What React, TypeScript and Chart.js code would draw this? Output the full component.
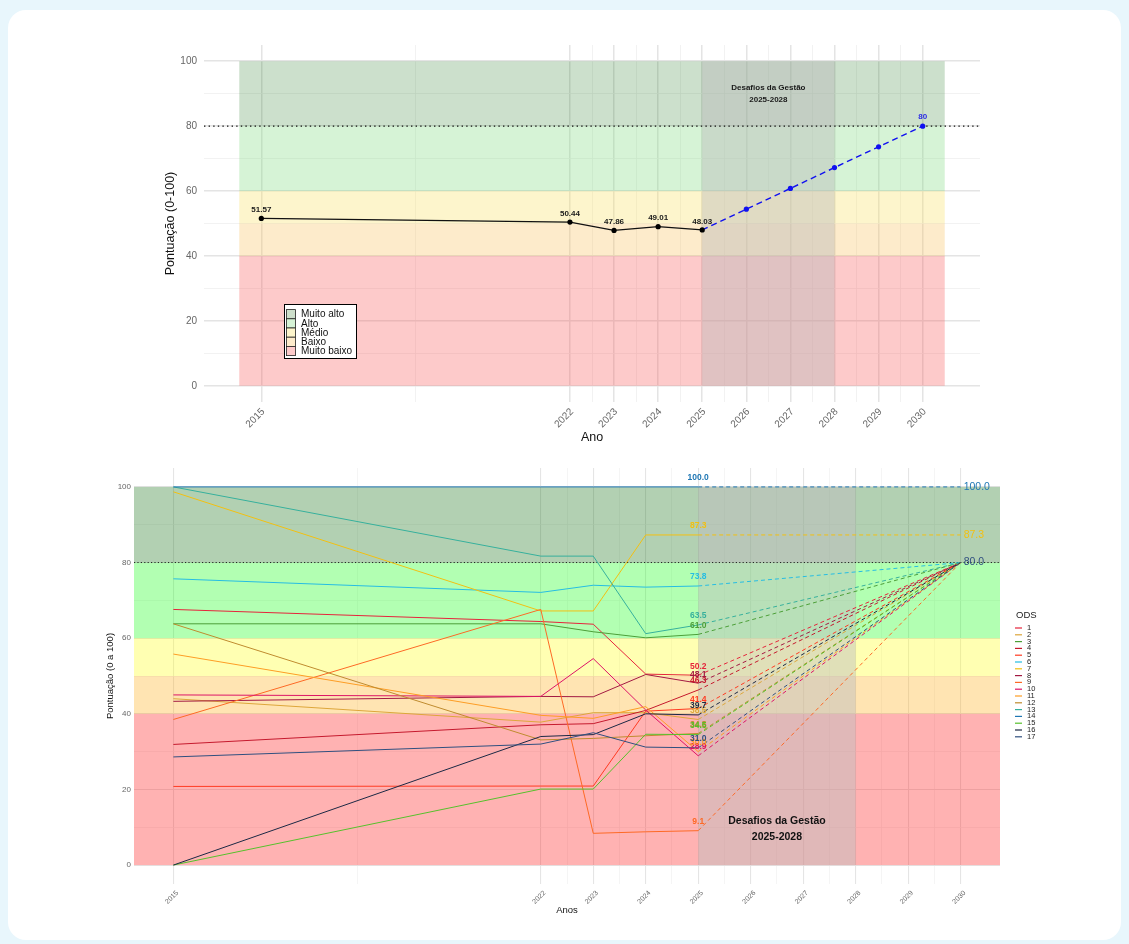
import React, { useEffect, useRef } from 'react';
import { Chart, registerables } from 'chart.js';

Chart.register(...registerables);

const FONT = '"Liberation Sans", Arial, Helvetica, sans-serif';

// ---------- shared axes ----------
const YEAR_TICKS = [2015, 2022, 2023, 2024, 2025, 2026, 2027, 2028, 2029, 2030];
const YEAR_MINOR = [2018.5, 2022.5, 2023.5, 2024.5, 2025.5, 2026.5, 2027.5, 2028.5, 2029.5];
const SCORE_TICKS = [0, 20, 40, 60, 80, 100];
const SCORE_MINOR = [10, 30, 50, 70, 90];
const META = 80;

// ---------- bands ----------
const BAND_NAMES = ['Muito alto', 'Alto', 'Médio', 'Baixo', 'Muito baixo'];
const BAND_FROM = [80, 60, 50, 40, 0];
const BAND_TO = [100, 80, 60, 50, 40];
const TOP_BAND_SPAN = [2014.5, 2030.5];
const TOP_BAND_FILLS = ['rgba(0,100,0,0.2)', 'rgba(118,215,118,0.3)', 'rgba(248,222,85,0.3)', 'rgba(248,188,82,0.3)', 'rgba(248,78,78,0.3)'];
const TOP_LEGEND_KEYS = ['#cddfcb', '#d6f3d6', '#fdf5cc', '#fdebcb', '#fdcaca'];
const BOTTOM_BAND_FILLS = ['rgba(0,100,0,0.3)', 'rgba(0,255,0,0.3)', 'rgba(255,255,0,0.3)', 'rgba(255,165,0,0.3)', 'rgba(255,0,0,0.3)'];
const GESTAO = [2025, 2028];
const GESTAO_TEXT = ['Desafios da Gestão', '2025-2028'];

// ---------- top chart ----------
const HIST_YEARS = [2015, 2022, 2023, 2024, 2025];
const HIST_SCORES = [51.57, 50.44, 47.86, 49.01, 48.03];
const PROJ_YEARS = [2025, 2026, 2027, 2028, 2029, 2030];
const PROJ_SCORES = [48.03, 54.42, 60.82, 67.22, 73.61, 80];

// ---------- bottom chart (ODS) ----------
const ODS_YEARS = [2015, 2022, 2023, 2024, 2025];
const ODS_END_YEAR = 2030;
const ODS_NAMES = ['1', '2', '3', '4', '5', '6', '7', '8', '9', '10', '11', '12', '13', '14', '15', '16', '17'];
const ODS_COLORS = ['#E5243B', '#DDA63A', '#4C9F38', '#C5192D', '#FF3A21', '#26BDE2', '#F2C011', '#A21942', '#FD6925', '#DD1367', '#FD9D24', '#BF8B2E', '#36B09C', '#1F77B4', '#56C02B', '#1B2844', '#2F4F7F'];
const ODS_1 = [67.6, 64.4, 63.7, 50.5, 50.2];
const ODS_2 = [44.0, 37.8, 40.3, 40.3, 38.5];
const ODS_3 = [63.8, 63.8, 61.7, 60.1, 61.0];
const ODS_4 = [31.9, 37.1, 37.4, 40.9, 46.3];
const ODS_5 = [20.8, 20.9, 20.9, 40.7, 41.4];
const ODS_6 = [75.7, 72.1, 74.0, 73.5, 73.8];
const ODS_7 = [98.7, 67.2, 67.2, 87.3, 87.3];
const ODS_8 = [43.3, 44.6, 44.5, 50.4, 48.1];
const ODS_9 = [38.5, 67.6, 8.4, 8.8, 9.1];
const ODS_10 = [45.0, 44.6, 54.6, 41.0, 28.9];
const ODS_11 = [55.8, 39.6, 38.8, 41.9, 30.0];
const ODS_12 = [63.8, 33.1, 33.5, 34.2, 34.8];
const ODS_13 = [100, 81.7, 81.7, 61.2, 63.5];
const ODS_14 = [100, 100, 100, 100, 100];
const ODS_15 = [0, 20.1, 20.1, 34.6, 34.5];
const ODS_16 = [0, 34.0, 34.5, 40.0, 39.7];
const ODS_17 = [28.6, 32.0, 35.0, 31.2, 31.0];
const ODS_SERIES = [ODS_1, ODS_2, ODS_3, ODS_4, ODS_5, ODS_6, ODS_7, ODS_8, ODS_9, ODS_10, ODS_11, ODS_12, ODS_13, ODS_14, ODS_15, ODS_16, ODS_17];

function text(ctx: any, t: string, x: number, y: number, font: string, color: string, align = 'center') {
  ctx.font = font;
  ctx.fillStyle = color;
  ctx.textAlign = align;
  ctx.textBaseline = 'middle';
  ctx.fillText(t, x, y);
}

function gridOpts(majors: number[], majorColor: string, minorColor: string, mw: number, nw: number) {
  return {
    drawTicks: false,
    color: (c: any) => (c.tick && majors.includes(c.tick.value) ? majorColor : minorColor),
    lineWidth: (c: any) => (c.tick && majors.includes(c.tick.value) ? mw : nw),
  };
}

function drawBands(chart: any, fills: string[], span: number[] | null, gray: string) {
  const { ctx, chartArea: a, scales } = chart;
  const x = scales.x, y = scales.y;
  const bx0 = span ? x.getPixelForValue(span[0]) : a.left;
  const bx1 = span ? x.getPixelForValue(span[1]) : a.right;
  for (let i = 0; i < BAND_NAMES.length; i++) {
    const y0 = y.getPixelForValue(BAND_TO[i]);
    const y1 = y.getPixelForValue(BAND_FROM[i]);
    ctx.fillStyle = fills[i];
    ctx.fillRect(bx0, y0, bx1 - bx0, y1 - y0);
  }
  const gx0 = x.getPixelForValue(GESTAO[0]);
  const gx1 = x.getPixelForValue(GESTAO[1]);
  const gy0 = y.getPixelForValue(100);
  const gy1 = y.getPixelForValue(0);
  ctx.fillStyle = gray;
  ctx.fillRect(gx0, gy0, gx1 - gx0, gy1 - gy0);
}

const topDecor = {
  id: 'topDecor',
  beforeDatasetsDraw(chart: any) {
    const { ctx, chartArea: a, scales } = chart;
    ctx.save();
    drawBands(chart, TOP_BAND_FILLS, TOP_BAND_SPAN, 'rgba(183,183,183,0.41)');
    const my = scales.y.getPixelForValue(META);
    ctx.strokeStyle = '#111';
    ctx.lineWidth = 1.4;
    ctx.setLineDash([1.4, 3.2]);
    ctx.beginPath();
    ctx.moveTo(a.left, my);
    ctx.lineTo(a.right, my);
    ctx.stroke();
    ctx.restore();
  },
  afterDatasetsDraw(chart: any) {
    const { ctx, scales } = chart;
    const x = scales.x, y = scales.y;
    ctx.save();
    HIST_YEARS.forEach((yr, i) => {
      text(ctx, HIST_SCORES[i].toFixed(2), x.getPixelForValue(yr), y.getPixelForValue(HIST_SCORES[i]) - 8.5, `bold 8px ${FONT}`, '#1a1a1a');
    });
    const last = PROJ_SCORES.length - 1;
    text(ctx, String(PROJ_SCORES[last]), x.getPixelForValue(PROJ_YEARS[last]), y.getPixelForValue(PROJ_SCORES[last]) - 9, `bold 8px ${FONT}`, '#2a2ae6');
    const cx = x.getPixelForValue((GESTAO[0] + GESTAO[1]) / 2);
    const cy = y.getPixelForValue(90);
    text(ctx, GESTAO_TEXT[0], cx, cy - 6, `bold 8px ${FONT}`, '#1a1a1a');
    text(ctx, GESTAO_TEXT[1], cx, cy + 6, `bold 8px ${FONT}`, '#1a1a1a');
    // legend box
    ctx.fillStyle = '#ffffff';
    ctx.fillRect(284.5, 304.5, 72, 54);
    ctx.strokeStyle = '#000';
    ctx.lineWidth = 1;
    ctx.setLineDash([]);
    ctx.strokeRect(284.5, 304.5, 72, 54);
    BAND_NAMES.forEach((name, i) => {
      const ky = 309.6 + i * 9.2;
      ctx.fillStyle = TOP_LEGEND_KEYS[i];
      ctx.fillRect(286.5, ky, 9, 9.2);
      ctx.strokeStyle = '#222';
      ctx.lineWidth = 0.8;
      ctx.strokeRect(286.5, ky, 9, 9.2);
      text(ctx, name, 301, ky + 5, `10px ${FONT}`, '#111', 'left');
    });
    ctx.restore();
  },
};

const bottomDecor = {
  id: 'bottomDecor',
  beforeDatasetsDraw(chart: any) {
    const { ctx, chartArea: a, scales } = chart;
    ctx.save();
    drawBands(chart, BOTTOM_BAND_FILLS, null, 'rgba(190,190,190,0.48)');
    const my = scales.y.getPixelForValue(META);
    ctx.strokeStyle = '#222';
    ctx.lineWidth = 1;
    ctx.setLineDash([1.2, 2.2]);
    ctx.beginPath();
    ctx.moveTo(a.left, my);
    ctx.lineTo(a.right, my);
    ctx.stroke();
    ctx.restore();
  },
  afterDatasetsDraw(chart: any) {
    const { ctx, scales } = chart;
    const x = scales.x, y = scales.y;
    ctx.save();
    const lastIdx = ODS_YEARS.length - 1;
    const xl = x.getPixelForValue(ODS_YEARS[lastIdx]);
    ODS_SERIES.forEach((s, i) => {
      text(ctx, s[lastIdx].toFixed(1), xl, y.getPixelForValue(s[lastIdx]) - 9, `bold 8.5px ${FONT}`, ODS_COLORS[i]);
    });
    // end labels at 2030
    const ends: { [k: string]: string } = {};
    ODS_SERIES.forEach((s, i) => {
      const v = Math.max(s[lastIdx], META);
      ends[v.toFixed(1)] = ODS_COLORS[i];
    });
    const xe = x.getPixelForValue(ODS_END_YEAR) + 3;
    Object.keys(ends).forEach((k) => {
      text(ctx, k, xe, y.getPixelForValue(parseFloat(k)), `10.5px ${FONT}`, ends[k], 'left');
    });
    const cx = x.getPixelForValue((GESTAO[0] + GESTAO[1]) / 2);
    const cy = y.getPixelForValue(10);
    text(ctx, GESTAO_TEXT[0], cx, cy - 6.5, `bold 10.5px ${FONT}`, '#111');
    text(ctx, GESTAO_TEXT[1], cx, cy + 9.5, `bold 10.5px ${FONT}`, '#111');
    // ODS legend
    const top = 615.5 - 460;
    text(ctx, 'ODS', 1016, top, `9.5px ${FONT}`, '#222', 'left');
    ODS_NAMES.forEach((n, i) => {
      const ly = top + 12.5 + i * 6.8;
      ctx.strokeStyle = ODS_COLORS[i];
      ctx.lineWidth = 1.2;
      ctx.setLineDash([]);
      ctx.beginPath();
      ctx.moveTo(1015, ly);
      ctx.lineTo(1022, ly);
      ctx.stroke();
      text(ctx, n, 1027, ly, `7.5px ${FONT}`, '#222', 'left');
    });
    ctx.restore();
  },
};

function yearTicks(scale: any) {
  scale.ticks = [...YEAR_TICKS, ...YEAR_MINOR].sort((a, b) => a - b).map((v) => ({ value: v }));
}
function scoreTicks(scale: any) {
  scale.ticks = [...SCORE_TICKS, ...SCORE_MINOR].sort((a, b) => a - b).map((v) => ({ value: v }));
}

export default function App() {
  const topRef = useRef<HTMLCanvasElement | null>(null);
  const botRef = useRef<HTMLCanvasElement | null>(null);

  useEffect(() => {
    const top = new Chart(topRef.current as HTMLCanvasElement, {
      type: 'line',
      data: {
        datasets: [
          {
            data: HIST_YEARS.map((yr, i) => ({ x: yr, y: HIST_SCORES[i] })),
            borderColor: '#111',
            borderWidth: 1.3,
            pointRadius: 2.6,
            pointBackgroundColor: '#000',
            pointBorderWidth: 0,
            tension: 0,
          },
          {
            data: PROJ_YEARS.map((yr, i) => ({ x: yr, y: PROJ_SCORES[i] })),
            borderColor: '#1010f0',
            borderWidth: 1.4,
            borderDash: [6, 4],
            pointRadius: (c: any) => (c.dataIndex === 0 ? 0 : 2.6),
            pointBackgroundColor: '#1010f0',
            pointBorderWidth: 0,
            tension: 0,
          },
        ],
      },
      options: {
        responsive: false,
        animation: false,
        layout: { padding: { left: 144, right: 149, top: 45, bottom: 0 } },
        plugins: { legend: { display: false }, tooltip: { enabled: false } },
        scales: {
          x: {
            type: 'linear',
            min: 2013.7,
            max: 2031.3,
            afterBuildTicks: yearTicks,
            afterFit: (s: any) => { s.height = 58; },
            border: { display: false },
            grid: gridOpts(YEAR_TICKS, '#e4e4e4', '#efefef', 1.5, 0.8),
            ticks: {
              autoSkip: false,
              minRotation: 45,
              maxRotation: 45,
              padding: 4,
              labelOffset: 2,
              color: '#666',
              font: { family: FONT, size: 10 },
              callback: (v: any) => (YEAR_TICKS.includes(v) ? String(v) : ''),
            },
            title: { display: true, text: 'Ano', color: '#111', font: { family: FONT, size: 12.5 }, padding: { top: 0, bottom: 14.5 } },
          },
          y: {
            type: 'linear',
            min: -5,
            max: 105,
            afterBuildTicks: scoreTicks,
            afterFit: (s: any) => { s.width = 60; },
            border: { display: false },
            grid: gridOpts(SCORE_TICKS, '#e4e4e4', '#efefef', 1.5, 0.8),
            ticks: {
              autoSkip: false,
              padding: 7,
              color: '#666',
              font: { family: FONT, size: 10 },
              callback: (v: any) => (SCORE_TICKS.includes(v) ? String(v) : ''),
            },
            title: { display: true, text: 'Pontuação (0-100)', color: '#111', font: { family: FONT, size: 12.5 }, padding: { top: 19.5, bottom: 0 } },
          },
        },
      },
      plugins: [topDecor],
    } as any);

    const datasets: any[] = [];
    ODS_SERIES.forEach((s, i) => {
      datasets.push({
        data: ODS_YEARS.map((yr, j) => ({ x: yr, y: s[j] })),
        borderColor: ODS_COLORS[i],
        borderWidth: 1,
        pointRadius: 0,
        tension: 0,
        order: 100 + (16 - i),
      });
    });
    ODS_SERIES.forEach((s, i) => {
      const last = s[s.length - 1];
      datasets.push({
        data: [
          { x: ODS_YEARS[ODS_YEARS.length - 1], y: last },
          { x: ODS_END_YEAR, y: Math.max(last, META) },
        ],
        borderColor: ODS_COLORS[i],
        borderWidth: 1,
        borderDash: [4, 3],
        pointRadius: 0,
        tension: 0,
        order: 16 - i,
      });
    });

    const bottom = new Chart(botRef.current as HTMLCanvasElement, {
      type: 'line',
      data: { datasets },
      options: {
        responsive: false,
        animation: false,
        layout: { padding: { left: 94, right: 129, top: 8, bottom: 0 } },
        plugins: { legend: { display: false }, tooltip: { enabled: false } },
        scales: {
          x: {
            type: 'linear',
            min: 2014.25,
            max: 2030.75,
            afterBuildTicks: yearTicks,
            afterFit: (s: any) => { s.height = 60; },
            border: { display: false },
            grid: gridOpts(YEAR_TICKS, '#e5e5e5', '#f0f0f0', 1.1, 0.7),
            ticks: {
              autoSkip: false,
              minRotation: 45,
              maxRotation: 45,
              padding: 5,
              labelOffset: 4,
              color: '#666',
              font: { family: FONT, size: 7 },
              callback: (v: any) => (YEAR_TICKS.includes(v) ? String(v) : ''),
            },
            title: { display: true, text: 'Anos', color: '#111', font: { family: FONT, size: 9.5 }, padding: { top: 0, bottom: 28.3 } },
          },
          y: {
            type: 'linear',
            min: -5,
            max: 105,
            afterBuildTicks: scoreTicks,
            afterFit: (s: any) => { s.width = 40; },
            border: { display: false },
            grid: gridOpts(SCORE_TICKS, '#e5e5e5', '#f0f0f0', 1.1, 0.7),
            ticks: {
              autoSkip: false,
              padding: 3,
              color: '#666',
              font: { family: FONT, size: 8 },
              callback: (v: any) => (SCORE_TICKS.includes(v) ? String(v) : ''),
            },
            title: { display: true, text: 'Pontuação (0 a 100)', color: '#111', font: { family: FONT, size: 9.5 }, padding: { top: 10.3, bottom: 0 } },
          },
        },
      },
      plugins: [bottomDecor],
    } as any);

    return () => {
      top.destroy();
      bottom.destroy();
    };
  }, []);

  return (
    <div style={{ position: 'fixed', left: 0, top: 0, width: 1129, height: 944, background: '#e8f6fc', overflow: 'hidden' }}>
      <div style={{ position: 'absolute', left: 8, top: 10, width: 1113, height: 930, background: '#ffffff', borderRadius: 18 }} />
      <canvas ref={topRef} width={1129} height={460} style={{ position: 'absolute', left: 0, top: 0 }} />
      <canvas ref={botRef} width={1129} height={484} style={{ position: 'absolute', left: 0, top: 460 }} />
    </div>
  );
}
